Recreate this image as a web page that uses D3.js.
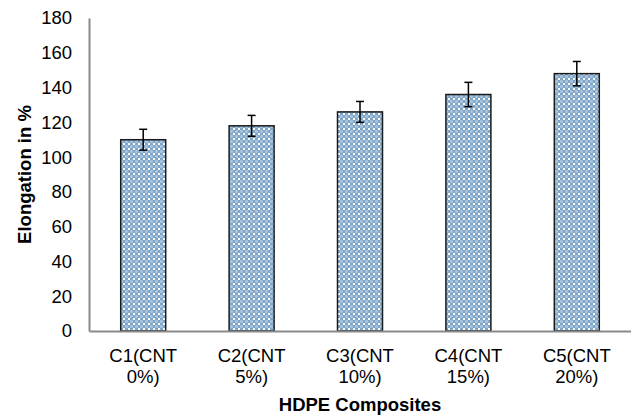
<!DOCTYPE html>
<html><head><meta charset="utf-8">
<script src="https://cdn.jsdelivr.net/npm/d3@7"></script>
<style>body{margin:0;background:#fff}text{font-family:"Liberation Sans",Arial,sans-serif}</style>
</head><body><svg id="c" width="631" height="416"></svg>
<script>
const categories = [["C1(CNT","0%)"],["C2(CNT","5%)"],["C3(CNT","10%)"],["C4(CNT","15%)"],["C5(CNT","20%)"]];
const values = [110, 118, 126, 136, 148];
const errors = [6, 6, 6, 7, 7];
const yTicks = [0,20,40,60,80,100,120,140,160,180];

const svg = d3.select("#c");
const W = 631, H = 416;
const m = {l:89, r:0, t:18, b:85};
const x = d3.scaleBand().domain(d3.range(values.length)).range([m.l, W-m.r]).paddingInner(0.585).paddingOuter(0.2925);
const y = d3.scaleLinear().domain([0,180]).range([H-m.b, m.t]);

const defs = svg.append("defs");
const p = defs.append("pattern").attr("id","dots").attr("patternUnits","userSpaceOnUse").attr("width",5).attr("height",5);
p.append("rect").attr("width",5).attr("height",5).attr("fill","#7ea6c9");
p.append("circle").attr("cx",1.5).attr("cy",1.5).attr("r",1.6).attr("fill","#a8c3db");
p.append("rect").attr("x",3).attr("y",3).attr("width",2).attr("height",2).attr("fill","#ffffff");

svg.selectAll("rect.bar").data(values).join("rect").attr("class","bar")
  .attr("x",(d,i)=>x(i)).attr("width",x.bandwidth())
  .attr("y",d=>y(d)).attr("height",d=>y(0)-y(d))
  .attr("fill","url(#dots)").attr("stroke","#1a1a1a").attr("stroke-width",1.5);

// axes
const ya = svg.append("g").attr("transform",`translate(${m.l},0)`).call(d3.axisLeft(y).tickValues(yTicks).tickSize(0).tickPadding(17));
ya.select(".domain").attr("stroke","#898989").attr("stroke-width",2);
ya.selectAll("text").attr("font-size",18.5).attr("fill","#000");
const xa = svg.append("g").attr("transform",`translate(0,${y(0)})`).call(d3.axisBottom(x).tickSize(0).tickFormat(""));
xa.select(".domain").attr("stroke","#898989").attr("stroke-width",2);
xa.selectAll(".tick").each(function(d){
  const t = d3.select(this).append("text").attr("fill","#000").attr("font-size",18.5).attr("text-anchor","middle");
  t.append("tspan").attr("x",0).attr("y",31).text(categories[d][0]);
  t.append("tspan").attr("x",0).attr("y",52).text(categories[d][1]);
});

// error bars
const eb = svg.append("g").attr("stroke","#000").attr("stroke-width",1.5);
values.forEach((v,i)=>{
  const cx = x(i)+x.bandwidth()/2;
  eb.append("line").attr("x1",cx).attr("x2",cx).attr("y1",y(v+errors[i])).attr("y2",y(v-errors[i]));
  eb.append("line").attr("x1",cx-4).attr("x2",cx+4).attr("y1",y(v+errors[i])).attr("y2",y(v+errors[i]));
  eb.append("line").attr("x1",cx-4).attr("x2",cx+4).attr("y1",y(v-errors[i])).attr("y2",y(v-errors[i]));
});

svg.append("text").attr("x",(m.l+W-m.r)/2).attr("y",411).attr("text-anchor","middle").attr("font-size",18.5).attr("font-weight","bold").text("HDPE Composites");
svg.append("text").attr("transform",`translate(31,${(m.t+H-m.b)/2}) rotate(-90)`).attr("text-anchor","middle").attr("font-size",18.5).attr("font-weight","bold").text("Elongation in %");
</script></body></html>
